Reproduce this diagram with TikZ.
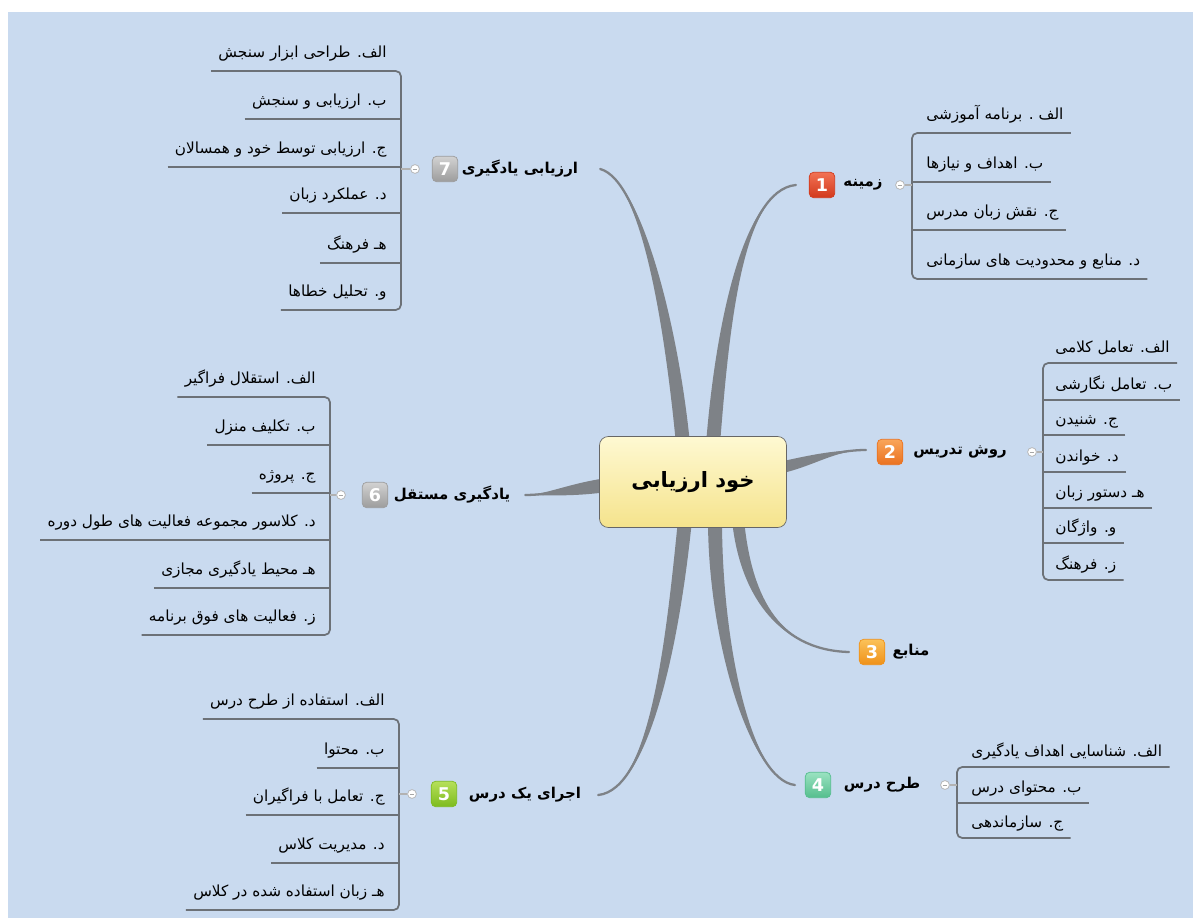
\documentclass[tikz,border=0pt]{standalone}
\usepackage{fontspec}
\setmainfont{DejaVu Sans}
\newfontfamily\farsifont[Script=Arabic]{DejaVu Sans}
\TeXXeTstate=1
\usetikzlibrary{calc}
\pgfdeclarelayer{back}
\pgfdeclarelayer{limbs}
\pgfsetlayers{back,limbs,main}
\newcommand{\fa}[1]{{\farsifont\beginR #1\endR}}
% tapered branch: base, control 1, control 2, tip, half width at base
\newcommand{\taper}[5]{%
  \fill[limb] ($(#1)+(#5)$) .. controls ($(#2)+(#5)$) and (#3) .. (#4)
    .. controls (#3) and ($(#2)-(#5)$) .. ($(#1)-(#5)$) -- cycle;
  \draw[limbline] (#1) .. controls (#2) and (#3) .. (#4);}
\definecolor{mapbg}{HTML}{C9DAEF}
\definecolor{limbgray}{HTML}{7E8287}
\definecolor{rulegray}{HTML}{6C7177}
\definecolor{redtop}{HTML}{F27254}\definecolor{redbot}{HTML}{D2391C}
\definecolor{orgtop}{HTML}{F9A55A}\definecolor{orgbot}{HTML}{EA7220}
\definecolor{ambtop}{HTML}{FBC25A}\definecolor{ambbot}{HTML}{EF9118}
\definecolor{mnttop}{HTML}{9AE2C0}\definecolor{mntbot}{HTML}{55BE8E}
\definecolor{limtop}{HTML}{B6E05A}\definecolor{limbot}{HTML}{7DBB1E}
\definecolor{grytop}{HTML}{D2D2D2}\definecolor{grybot}{HTML}{9C9C9C}
\definecolor{roottop}{HTML}{FEF9D2}\definecolor{rootbot}{HTML}{F5E38C}
\begin{document}
\begin{tikzpicture}[x=0.02cm, y=-0.02cm,
  limb/.style={fill=limbgray},
  limbline/.style={draw=limbgray, line width=1.3pt, line cap=round},
  root/.style={draw=gray!80!black, rounded corners=5pt, top color=roottop, bottom color=rootbot,
    minimum width=3.74cm, minimum height=1.82cm, font=\bfseries\fontsize{12}{14}\selectfont},
  topic/.style={font=\bfseries\fontsize{8.5}{10}\selectfont, inner sep=1pt},
  badge/.style 2 args={rounded corners=2.5pt, minimum size=14.5pt, inner sep=0pt, text=white,
    font=\bfseries\fontsize{10}{10}\selectfont, draw=#2, top color=#1, bottom color=#2},
  leaf/.style={font=\fontsize{8.7}{10}\selectfont, text height=7pt, text depth=3pt, inner xsep=4pt, inner ysep=4.6pt},
  leafL/.style={leaf, anchor=south east},
  leafR/.style={leaf, anchor=south west},
  leafC/.style={leafR, inner ysep=3pt},
  uline/.style={draw=rulegray, line width=1pt},
  fold/.style={circle, draw=gray!60, fill=white, inner sep=0pt, minimum size=5pt},
  twig/.style={draw=gray!60, line width=0.6pt}]

\useasboundingbox (0,0) rectangle (1193,918);
\begin{pgfonlayer}{back}
  \fill[white] (0,0) rectangle (1193,918);
  \fill[mapbg] (8,12) rectangle (1193,918);
\end{pgfonlayer}

% root
\node[root] (root) at (693,482) {\fa{خود ارزیابی}};

% main topics
\node[topic] (t1) at (863,185) {\fa{زمینه}};
\node[badge={redtop}{redbot}] (b1) at (822,185) {1};
\node[topic] (t2) at (960,452) {\fa{روش تدریس}};
\node[badge={orgtop}{orgbot}] (b2) at (890,452) {2};
\node[topic] (t3) at (911,652) {\fa{منابع}};
\node[badge={ambtop}{ambbot}] (b3) at (872,652) {3};
\node[topic] (t4) at (882,785) {\fa{طرح درس}};
\node[badge={mnttop}{mntbot}] (b4) at (818,785) {4};
\node[topic] (t5) at (525,795) {\fa{اجرای یک درس}};
\node[badge={limtop}{limbot}] (b5) at (444,794) {5};
\node[topic] (t6) at (452,495) {\fa{یادگیری مستقل}};
\node[badge={grytop}{grybot}] (b6) at (375,495) {6};
\node[topic] (t7) at (520,169) {\fa{ارزیابی یادگیری}};
\node[badge={grytop}{grybot}] (b7) at (445,169) {7};

% branch ends
\coordinate (r1) at ($(root.north)+(20,8)$);   \coordinate (e1) at ($(b1.west)+(-13,0)$);
\coordinate (r2) at ($(root.east)+(-8,-14)$);  \coordinate (e2) at ($(b2.west)+(-11,-2)$);
\coordinate (r3) at ($(root.south)+(45,-8)$);  \coordinate (e3) at ($(b3.west)+(-10,0)$);
\coordinate (r4) at ($(root.south)+(22,-8)$);  \coordinate (e4) at ($(b4.west)+(-10,0)$);
\coordinate (r5) at ($(root.south)+(-8,-8)$);  \coordinate (e5) at ($(t5.east)+(15,0)$);
\coordinate (r6) at ($(root.west)+(8,3)$);     \coordinate (e6) at ($(t6.east)+(13,0)$);
\coordinate (r7) at ($(root.north)+(-10,8)$);  \coordinate (e7) at ($(t7.east)+(20,0)$);

\begin{pgfonlayer}{limbs}
  \taper{r7}{672,330}{642,180}{e7}{7,0}
  \taper{r1}{722,330}{742,190}{e1}{7,0}
  \taper{r2}{815,460}{835,450}{e2}{0,6}
  \taper{r3}{745,590}{775,650}{e3}{6,0}
  \taper{r4}{715,640}{750,780}{e4}{7,0}
  \taper{r5}{673,640}{650,790}{e5}{7,0}
  \taper{r6}{570,490}{545,495}{e6}{0,7}
\end{pgfonlayer}

% 7 -- left top
\coordinate (br7) at (401,169);
\node[fold] (f7) at (415,169) {};
\node[leafL] (l7a) at (394,71) {\fa{الف. طراحی ابزار سنجش}};
\node[leafL] (l7b) at (394,119) {\fa{ب. ارزیابی و سنجش}};
\node[leafL] (l7c) at (394,167) {\fa{ج. ارزیابی توسط خود و همسالان}};
\node[leafL] (l7d) at (394,213) {\fa{د. عملکرد زبان}};
\node[leafL] (l7e) at (394,263) {\fa{هـ فرهنگ}};
\node[leafL] (l7f) at (394,310) {\fa{و. تحلیل خطاها}};
\draw[uline, rounded corners=3pt] (l7a.south west) -- (br7 |- l7a.south) -- (br7 |- l7f.south) -- (l7f.south west);
\draw[uline] (l7b.south west) -- (br7 |- l7b.south);
\draw[uline] (l7c.south west) -- (br7 |- l7c.south);
\draw[uline] (l7d.south west) -- (br7 |- l7d.south);
\draw[uline] (l7e.south west) -- (br7 |- l7e.south);
\draw[twig] (f7) -- (br7);

% 6 -- left middle
\coordinate (br6) at (330,495);
\node[fold] (f6) at (341,495) {};
\node[leafL] (l6a) at (323,397) {\fa{الف. استقلال فراگیر}};
\node[leafL] (l6b) at (323,445) {\fa{ب. تکلیف منزل}};
\node[leafL] (l6c) at (323,493) {\fa{ج. پروژه}};
\node[leafL] (l6d) at (323,540) {\fa{د. کلاسور مجموعه فعالیت های طول دوره}};
\node[leafL] (l6e) at (323,588) {\fa{هـ محیط یادگیری مجازی}};
\node[leafL] (l6f) at (323,635) {\fa{ز. فعالیت های فوق برنامه}};
\draw[uline, rounded corners=3pt] (l6a.south west) -- (br6 |- l6a.south) -- (br6 |- l6f.south) -- (l6f.south west);
\draw[uline] (l6b.south west) -- (br6 |- l6b.south);
\draw[uline] (l6c.south west) -- (br6 |- l6c.south);
\draw[uline] (l6d.south west) -- (br6 |- l6d.south);
\draw[uline] (l6e.south west) -- (br6 |- l6e.south);
\draw[twig] (f6) -- (br6);

% 5 -- left bottom
\coordinate (br5) at (399,794);
\node[fold] (f5) at (412,794) {};
\node[leafL] (l5a) at (392,719) {\fa{الف. استفاده از طرح درس}};
\node[leafL] (l5b) at (392,768) {\fa{ب. محتوا}};
\node[leafL] (l5c) at (392,815) {\fa{ج. تعامل با فراگیران}};
\node[leafL] (l5d) at (392,863) {\fa{د. مدیریت کلاس}};
\node[leafL] (l5e) at (392,910) {\fa{هـ زبان استفاده شده در کلاس}};
\draw[uline, rounded corners=3pt] (l5a.south west) -- (br5 |- l5a.south) -- (br5 |- l5e.south) -- (l5e.south west);
\draw[uline] (l5b.south west) -- (br5 |- l5b.south);
\draw[uline] (l5c.south west) -- (br5 |- l5c.south);
\draw[uline] (l5d.south west) -- (br5 |- l5d.south);
\draw[twig] (f5) -- (br5);

% 1 -- right top
\coordinate (br1) at (912,185);
\node[fold] (f1) at (900,185) {};
\node[leafR] (l1a) at (919,133) {\fa{الف . برنامه آموزشی}};
\node[leafR] (l1b) at (919,182) {\fa{ب. اهداف و نیازها}};
\node[leafR] (l1c) at (919,230) {\fa{ج. نقش زبان مدرس}};
\node[leafR] (l1d) at (919,279) {\fa{د. منابع و محدودیت های سازمانی}};
\draw[uline, rounded corners=3pt] (l1a.south east) -- (br1 |- l1a.south) -- (br1 |- l1d.south) -- (l1d.south east);
\draw[uline] (l1b.south east) -- (br1 |- l1b.south);
\draw[uline] (l1c.south east) -- (br1 |- l1c.south);
\draw[twig] (f1) -- (br1);

% 2 -- right middle
\coordinate (br2) at (1043,452);
\node[fold] (f2) at (1032,452) {};
\node[leafC] (l2a) at (1048,363) {\fa{الف. تعامل کلامی}};
\node[leafC] (l2b) at (1048,400) {\fa{ب. تعامل نگارشی}};
\node[leafC] (l2c) at (1048,435) {\fa{ج. شنیدن}};
\node[leafC] (l2d) at (1048,472) {\fa{د. خواندن}};
\node[leafC] (l2e) at (1048,508) {\fa{هـ دستور زبان}};
\node[leafC] (l2f) at (1048,543) {\fa{و. واژگان}};
\node[leafC] (l2g) at (1048,580) {\fa{ز. فرهنگ}};
\draw[uline, rounded corners=3pt] (l2a.south east) -- (br2 |- l2a.south) -- (br2 |- l2g.south) -- (l2g.south east);
\draw[uline] (l2b.south east) -- (br2 |- l2b.south);
\draw[uline] (l2c.south east) -- (br2 |- l2c.south);
\draw[uline] (l2d.south east) -- (br2 |- l2d.south);
\draw[uline] (l2e.south east) -- (br2 |- l2e.south);
\draw[uline] (l2f.south east) -- (br2 |- l2f.south);
\draw[twig] (f2) -- (br2);

% 4 -- right bottom
\coordinate (br4) at (957,785);
\node[fold] (f4) at (945,785) {};
\node[leafC] (l4a) at (964,767) {\fa{الف. شناسایی اهداف یادگیری}};
\node[leafC] (l4b) at (964,803) {\fa{ب. محتوای درس}};
\node[leafC] (l4c) at (964,838) {\fa{ج. سازماندهی}};
\draw[uline, rounded corners=3pt] (l4a.south east) -- (br4 |- l4a.south) -- (br4 |- l4c.south) -- (l4c.south east);
\draw[uline] (l4b.south east) -- (br4 |- l4b.south);
\draw[twig] (f4) -- (br4);

% fold marks
\foreach \f in {f1,f2,f4,f5,f6,f7}
  \draw[gray!70, line width=0.5pt] ([xshift=-1.3pt]\f.center) -- ([xshift=1.3pt]\f.center);
\end{tikzpicture}
\end{document}
